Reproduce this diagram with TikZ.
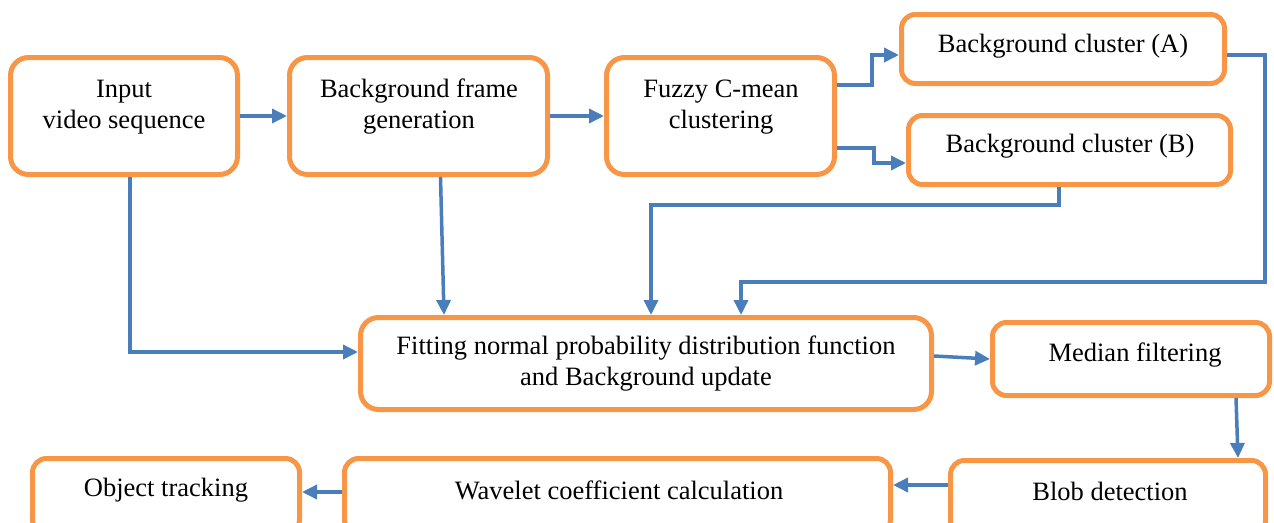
\documentclass[tikz,border=0pt]{standalone}
\usepackage{fontspec}
\setmainfont{Liberation Serif}
\usetikzlibrary{arrows.meta,calc,positioning}
\definecolor{boxorange}{HTML}{F79646}
\definecolor{wireblue}{HTML}{4A7EBB}
\tikzset{
  box/.style  = {draw=boxorange, line width=5pt, fill=white, rounded corners=18pt,
                 inner sep=0pt},
  txt/.style  = {align=center, font=\fontsize{26.5}{31}\selectfont, inner sep=0pt},
  wire/.style = {wireblue, line width=3.5pt, -{Triangle[length=15pt,width=14pt]}},
}
\begin{document}
\begin{tikzpicture}[x=1pt,y=-1pt]
  \useasboundingbox (0,0) rectangle (1274,522);
  % top row
  \node[box, minimum width=227pt, minimum height=117pt] (inp) at (124,116) {};
  \node[box, minimum width=258pt, minimum height=117pt] (bfg) at (418.5,116) {};
  \node[box, minimum width=228pt, minimum height=117pt] (fcm) at (720.5,116) {};
  \node[box, minimum width=323pt, minimum height=69pt, rounded corners=14pt] (ca) at (1063,49) {};
  \node[box, minimum width=322pt, minimum height=69pt, rounded corners=14pt] (cb) at (1069.5,150) {};
  \node[txt] at (124,107) {Input\\video sequence};
  \node[txt] at (419,107) {Background frame\\generation};
  \node[txt] at (721,107) {Fuzzy C-mean\\clustering};
  \node[txt] at (1063,46) {Background cluster (A)};
  \node[txt] at (1070,146) {Background cluster (B)};
  % middle row
  \node[box, minimum width=571pt, minimum height=92pt] (fit) at (646,363.5) {};
  \node[box, minimum width=277pt, minimum height=73pt, rounded corners=14pt] (med) at (1131,359) {};
  \node[txt] at (646,364) {Fitting normal probability distribution function\\and Background update};
  \node[txt] at (1135,355) {Median filtering};
  % bottom row
  \node[box, minimum width=315pt, minimum height=75pt, rounded corners=14pt] (blob) at (1108,498) {};
  \node[box, minimum width=546pt, minimum height=75pt, rounded corners=14pt] (wav) at (617.5,496) {};
  \node[box, minimum width=267pt, minimum height=75pt, rounded corners=14pt] (obj) at (166,496) {};
  \node[txt] at (1110,491) {Blob detection};
  \node[txt] at (619,490) {Wavelet coefficient calculation};
  \node[txt] at (166,490) {Object tracking};
  % connectors
  \draw[wire] (inp.east) -- (bfg.west);
  \draw[wire] (bfg.east) -- (fcm.west);
  \draw[wire] ([yshift=31pt]fcm.east) -- ++(35,0) |- ([yshift=-6pt]ca.west);
  \draw[wire] ([yshift=-32pt]fcm.east) -- ++(37,0) |- ([yshift=-13pt]cb.west);
  \draw[wire] ([xshift=-10.5pt]cb.south) -- ++(0,18) -| ([xshift=5pt]fit.north);
  \draw[wire] ([yshift=-6pt]ca.east) -- ++(38,0) -- ++(0,227) -| ([xshift=95pt]fit.north);
  \draw[wire] ([xshift=6pt]inp.south) |- ([yshift=11.5pt]fit.west);
  \draw[wire] ([xshift=22pt]bfg.south) -- ([xshift=-202pt]fit.north);
  \draw[wire] ([yshift=7.5pt]fit.east) -- (med.west);
  \draw[wire] ([xshift=105pt]med.south) -- ([xshift=130pt]blob.north);
  \draw[wire] ([yshift=13pt]blob.west) -- ([yshift=11pt]wav.east);
  \draw[wire] ([yshift=4pt]wav.west) -- ([yshift=4pt]obj.east);
\end{tikzpicture}
\end{document}
